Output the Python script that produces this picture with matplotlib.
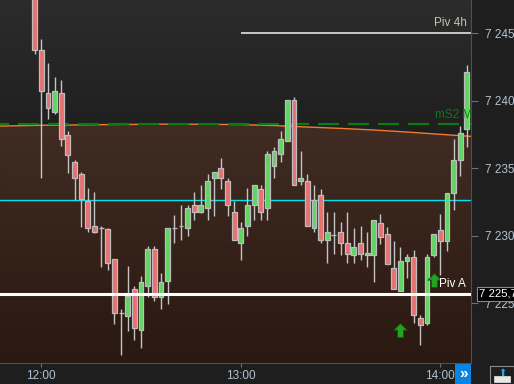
import numpy as np
import matplotlib
matplotlib.use('Agg')
import matplotlib.pyplot as plt
from matplotlib.path import Path
from matplotlib.patches import Polygon, Rectangle
from matplotlib.colors import LinearSegmentedColormap
import matplotlib.transforms as mtransforms

plt.rcParams['font.family'] = ['Liberation Sans', 'DejaVu Sans']

# 2-minute candles, time in minutes from 12:00
times = list(range(-2, 130, 2))
opens = [7249.0, 7243.75, 7240.55, 7239.2, 7240.55, 7237.5, 7235.5, 7234.55, 7232.55, 7230.7,
         7230.55, 7230.5, 7228.25, 7224.25, 7224.05, 7226.05, 7223.0, 7226.25, 7229.0, 7225.5,
         7226.65, 7230.55, 7230.75, 7230.55, 7232.25, 7231.75, 7232.05, 7234.25, 7235.0, 7234.05,
         7231.75, 7229.5, 7230.7, 7232.25, 7233.5, 7232.05, 7235.2, 7236.05, 7237.05, 7240.05,
         7234.05, 7234.05, 7230.55, 7233.0, 7229.7, 7230.05, 7230.25, 7229.5, 7228.55, 7229.5,
         7228.55, 7228.6, 7230.95, 7230.1, 7227.65, 7225.95, 7228.1, 7228.4, 7223.95, 7223.55,
         7228.6, 7230.4, 7229.65, 7233.15, 7235.65, 7237.95]
highs = [7250.0, 7244.55, 7242.8, 7241.75, 7241.55, 7237.75, 7235.6, 7234.75, 7233.55, 7233.25,
         7230.7, 7230.55, 7228.3, 7224.6, 7227.75, 7226.3, 7227.0, 7229.25, 7229.25, 7227.25,
         7230.55, 7231.55, 7232.3, 7232.25, 7233.25, 7233.75, 7234.55, 7234.7, 7235.75, 7234.25,
         7232.6, 7231.0, 7233.55, 7233.75, 7233.75, 7236.3, 7236.6, 7237.75, 7240.05, 7240.25,
         7236.3, 7234.55, 7233.75, 7233.5, 7231.75, 7231.75, 7231.0, 7231.75, 7230.55, 7230.7,
         7230.25, 7231.15, 7231.65, 7230.65, 7229.65, 7229.15, 7228.65, 7228.95, 7224.15, 7228.65,
         7230.1, 7231.65, 7233.15, 7237.15, 7238.1, 7242.65]
lows = [7243.5, 7234.25, 7238.65, 7239.05, 7236.65, 7234.65, 7232.65, 7230.65, 7230.25, 7230.2,
        7227.7, 7227.45, 7223.45, 7221.2, 7222.95, 7222.25, 7221.7, 7225.5, 7225.2, 7224.55,
        7224.95, 7229.5, 7229.7, 7230.0, 7231.2, 7231.7, 7231.2, 7231.5, 7233.5, 7231.5,
        7229.7, 7228.2, 7230.0, 7231.2, 7231.2, 7231.2, 7234.25, 7235.5, 7237.05, 7233.75,
        7233.75, 7230.7, 7230.25, 7229.5, 7228.0, 7228.65, 7228.55, 7228.0, 7228.0, 7228.2,
        7227.7, 7226.6, 7229.4, 7227.9, 7226.05, 7225.9, 7226.9, 7223.55, 7221.95, 7223.4,
        7228.4, 7227.1, 7228.9, 7231.95, 7234.4, 7236.6]
closes = [7243.75, 7240.7, 7239.5, 7240.7, 7237.2, 7236.0, 7234.25, 7232.7, 7230.55, 7230.25,
          7230.55, 7228.0, 7224.25, 7224.25, 7225.55, 7223.2, 7226.55, 7229.0, 7225.5, 7226.6,
          7230.55, 7230.55, 7230.75, 7232.05, 7231.75, 7232.25, 7234.05, 7234.7, 7234.25, 7232.25,
          7229.7, 7230.55, 7232.25, 7233.75, 7231.75, 7236.05, 7236.25, 7237.2, 7240.05, 7233.75,
          7234.25, 7230.7, 7232.65, 7229.7, 7230.25, 7230.05, 7229.5, 7228.65, 7229.2, 7228.65,
          7228.75, 7231.15, 7229.95, 7227.95, 7226.05, 7228.1, 7228.4, 7224.1, 7223.4, 7228.4,
          7230.1, 7229.65, 7233.15, 7235.65, 7237.65, 7242.1]

# orange average curve
curve_t = [-12.4, 0, 20, 40, 60, 70, 80, 90, 100, 110, 120, 129.2]
curve_v = [7238.13, 7238.19, 7238.24, 7238.28, 7238.24, 7238.17, 7238.06, 7237.96, 7237.84, 7237.69, 7237.52, 7237.37]

piv_4h = 7245.0
ms2_m = 7238.28
cyan_level = 7232.65
piv_a = 7225.7
arrow_t = [108, 118]
arrow_v = [7223.0, 7226.7]

yticks = [7225, 7230, 7235, 7240, 7245]
xticks = [0, 60, 120]
xlabels = ['12:00', '13:00', '14:00']

xmin, xmax = -12.42, 129.23
ymin, ymax = 7220.58, 7247.47

fig = plt.figure(figsize=(5.14, 3.84), dpi=100, facecolor='#1e1e1e')
ax = fig.add_axes([0, 21 / 384, 471 / 514, 363 / 384])
ax.set_xlim(xmin, xmax)
ax.set_ylim(ymin, ymax)

# background gradients
grad = np.linspace(0, 1, 256).reshape(-1, 1)
gray_cm = LinearSegmentedColormap.from_list('g', ['#2c2c2c', '#1a1a1a', '#1a1a1a'])
brown_cm = LinearSegmentedColormap.from_list('b', ['#402c23', '#2a1911'])
ax.imshow(grad, extent=[xmin, xmax, ymin, ymax], aspect='auto', cmap=gray_cm, zorder=0)
poly = Polygon(list(zip(curve_t, curve_v)) + [(xmax, ymin), (xmin, ymin)], closed=True,
               facecolor='none', edgecolor='none')
ax.add_patch(poly)
bg = ax.imshow(np.linspace(0, 1, 256).reshape(-1, 1), extent=[xmin, xmax, ymin, 7238.3],
               aspect='auto', cmap=brown_cm, zorder=0.5)
bg.set_clip_path(poly)

# levels
ax.plot(curve_t, curve_v, color='#f07a30', lw=1.0, zorder=1.5)
ax.axhline(ms2_m, color='#0c7a0c', lw=1.6, linestyle=(5.4, (9.5, 4.0)), zorder=1.6)
ax.axhline(cyan_level, color='#00e4f0', lw=1.0, zorder=1.6)
ax.axhline(piv_a, color='#ffffff', lw=2.2, zorder=4)
ax.hlines(piv_4h, 60, xmax, color='#d4d4d4', lw=1.3, zorder=1.6)

# candles
o = np.array(opens)
c = np.array(closes)
cols = ['#5fd65f' if cc >= oo else '#e87070' for oo, cc in zip(o, c)]
ax.vlines(times, lows, highs, color='#c4c4c4', lw=1.0, zorder=2)
ax.bar(times, np.abs(c - o), bottom=np.minimum(o, c), width=1.45, color=cols,
       edgecolor='#bdbdbd', linewidth=0.9, zorder=3)

# buy arrows
arrow = Path([(0, 1), (0.95, 0.05), (0.42, 0.05), (0.42, -1), (-0.42, -1), (-0.42, 0.05),
              (-0.95, 0.05), (0, 1)], closed=True)
ax.plot(arrow_t, arrow_v, linestyle='none', marker=arrow, markersize=10,
        markerfacecolor='#22a322', markeredgecolor='#0d5a0d', markeredgewidth=0.6, zorder=5)

# labels
ax.text(xmax - 1.3, piv_4h + 0.35, 'Piv 4h', color='#c4c4b4', fontsize=8.5, ha='right', va='bottom', zorder=6)
ax.text(xmax + 0.3, ms2_m + 0.25, 'mS2 M', color='#0e7a0e', fontsize=8.5, ha='right', va='bottom', zorder=6)
ax.text(xmax - 1.5, piv_a + 0.3, 'Piv A', color='#ffffff', fontsize=8.5, ha='right', va='bottom', zorder=6)

# axes styling
for s in ['top', 'left']:
    ax.spines[s].set_visible(False)
for s in ['right', 'bottom']:
    ax.spines[s].set_color('#505050')
ax.yaxis.tick_right()
ax.set_yticks(yticks)
ax.set_yticklabels(['7 %03d' % (v - 7000) for v in yticks])
ax.set_xticks(xticks)
ax.set_xticklabels(xlabels)
ax.tick_params(axis='y', direction='out', length=5, color='#707070', labelcolor='#b2c2d2',
               labelsize=8.5, pad=5)
ax.tick_params(axis='x', direction='out', length=3, color='#707070', labelcolor='#b2c2d2',
               labelsize=8.5, pad=2)

# current price box
tr = mtransforms.blended_transform_factory(ax.transAxes, ax.transData)
ax.text(1.018, piv_a, '7 225,7', transform=tr, color='#ffffff', fontsize=8.2, ha='left',
        va='center', clip_on=False, zorder=7,
        bbox=dict(boxstyle='square,pad=0.2', facecolor='#000000', edgecolor='#8a8a8a', lw=0.8))

# bottom-right buttons
fig.patches.append(Rectangle((455 / 514, 0), 16 / 514, 20 / 384, transform=fig.transFigure,
                             facecolor='#0a84e0', edgecolor='none'))
fig.text(463 / 514, 10 / 384, '»', color='white', fontsize=11, ha='center', va='center', fontweight='bold')
fig.patches.append(Rectangle((490 / 514, 0), 24 / 514, 18 / 384, transform=fig.transFigure,
                             facecolor='#1e1e1e', edgecolor='#8a8a8a', lw=0.8))
fig.patches.append(Rectangle((494 / 514, 2 / 384), 16 / 514, 6 / 384, transform=fig.transFigure,
                             facecolor='#e8e8e8', edgecolor='#e8e8e8', lw=0.5))
fig.text(502 / 514, 11.5 / 384, '⬆', color='#2aa8f0', fontsize=7, ha='center', va='center',
         family=['DejaVu Sans'])

fig.savefig('out.png', dpi=100, facecolor=fig.get_facecolor())
